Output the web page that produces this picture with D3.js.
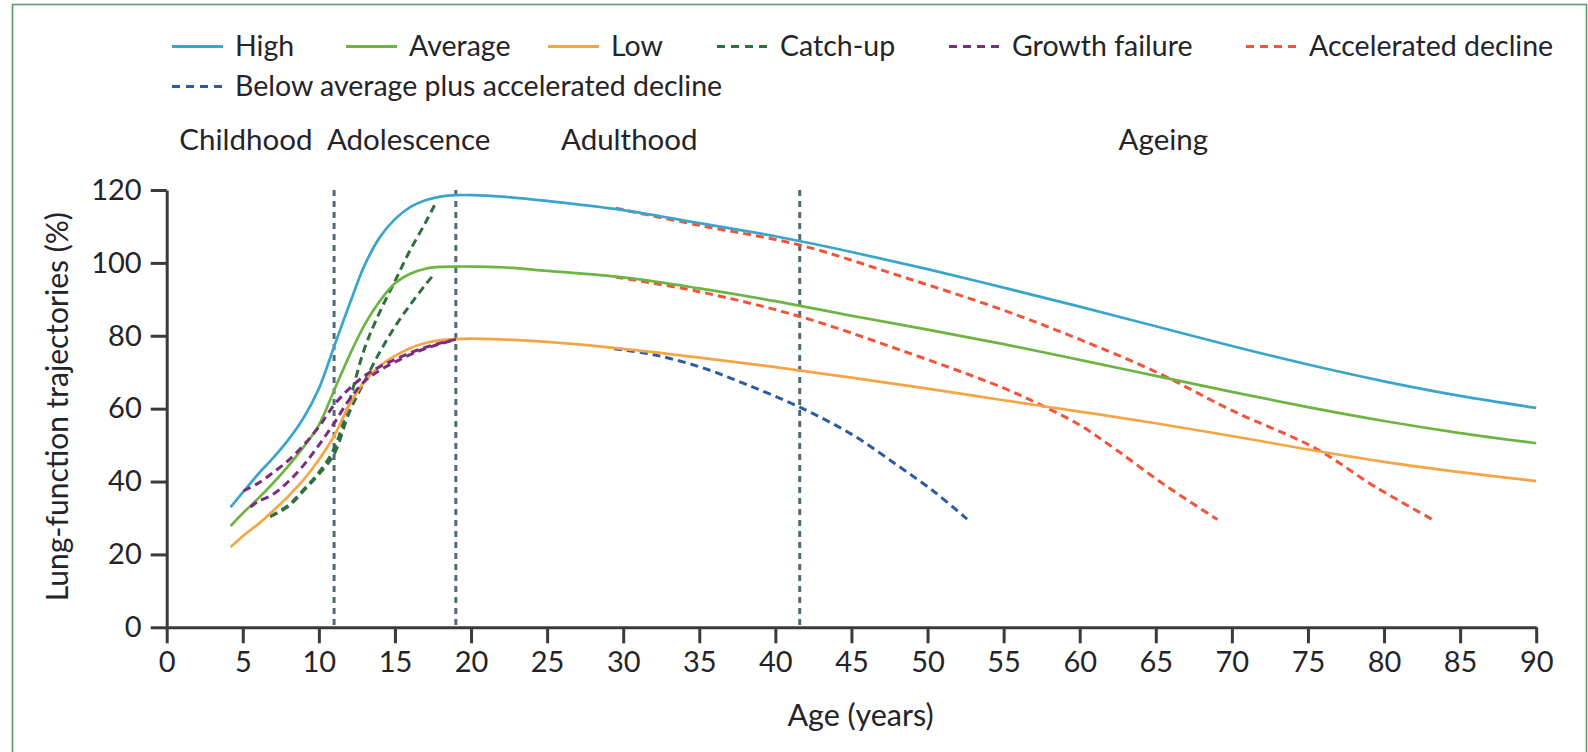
<!DOCTYPE html>
<html>
<head>
<meta charset="utf-8">
<script src="https://cdn.jsdelivr.net/npm/d3@7"></script>
<style>
  html, body { margin: 0; padding: 0; background: #fff; }
  svg { display: block; }
  text { font-family: Lato, "Open Sans", sans-serif; fill: #242428; }
</style>
</head>
<body>
<svg id="chart" width="1588" height="752"></svg>
<script>
// Ages (years) and lung-function values (% of reference) for the three main trajectories
const mainAges    = [4.2, 5, 6, 7, 8, 9, 10, 11, 12, 13, 14, 15, 16, 17, 18, 19, 20, 22, 25, 30, 35, 40, 45, 50, 55, 60, 65, 70, 75, 80, 85, 90];
const highValues  = [33, 37, 42, 46.5, 51.5, 57.5, 65.5, 77, 88.5, 99.3, 107, 112, 115.3, 117.2, 118.2, 118.6, 118.6, 118.2, 117, 114.5, 110.9, 107.3, 103, 98.3, 93.2, 88, 82.6, 77.2, 72.1, 67.5, 63.5, 60.2];
const averageValues = [27.8, 31.3, 35.3, 39.6, 44.3, 49.5, 55.5, 65, 74.5, 83, 89.5, 94.4, 97, 98.4, 98.9, 99, 99, 98.8, 97.8, 96, 93, 89.5, 85.5, 81.7, 77.7, 73.4, 69, 64.6, 60.4, 56.6, 53.3, 50.5];
const lowValues   = [22, 25, 28.3, 32, 36, 40.5, 46, 52.5, 61, 67.5, 71.7, 74.5, 76.6, 78, 78.8, 79.1, 79.2, 79, 78.3, 76.4, 74, 71.4, 68.5, 65.5, 62.3, 59.2, 56, 52.5, 48.8, 45.4, 42.6, 40.1];

// Catch-up: from the low trajectory up to the high and average peaks
const catchUpHighAges   = [6.8, 8, 9, 10, 11, 12, 13, 14, 15, 16, 17, 17.6];
const catchUpHighValues = [30.4, 33.5, 37.8, 42.5, 49, 62, 76.5, 86.5, 95, 103.5, 111, 115.8];
const catchUpAvgAges    = [6.8, 8, 9, 10, 11, 12, 13, 14, 15, 16, 17, 17.6];
const catchUpAvgValues  = [30.4, 33.2, 37.5, 42, 47.5, 59, 67.5, 75.5, 82.5, 88.5, 94, 97];

// Growth failure: from the high and average trajectories down to the low peak
const failHighAges   = [5.04, 6, 7, 8, 9, 10, 11, 12, 13, 14, 15, 16, 17, 18, 19];
const failHighValues = [37.4, 39.5, 42.5, 45.8, 50, 55, 61, 65.5, 69, 71.5, 73.5, 75.3, 76.8, 78, 79];
const failAvgAges    = [5.5, 6, 7, 8, 9, 10, 11, 12, 13, 14, 15, 16, 17, 18, 19];
const failAvgValues  = [33, 34.5, 36.5, 40, 44.5, 50, 56, 62.5, 67.5, 70.5, 72.8, 74.8, 76.5, 77.8, 79];

// Accelerated decline leaving the high and average trajectories
const declineHighAges   = [29.5, 35, 41.6, 48.2, 54.8, 60, 65.1, 70, 75.5, 79.4, 83.3];
const declineHighValues = [115, 110.3, 104.9, 96.4, 87.3, 79, 69.9, 59.5, 49.1, 38.6, 29.3];
const declineAvgAges    = [29.5, 35, 41.6, 48.2, 54.8, 57.2, 60, 62.4, 65.6, 69.05];
const declineAvgValues  = [96.1, 92.1, 85.3, 76.1, 66, 61.5, 55.5, 48.7, 39, 29.6];

// Below average plus accelerated decline, leaving the low trajectory
const belowAges   = [29.4, 32, 35, 38, 41.6, 45, 48, 50.5, 52.6];
const belowValues = [76.4, 74.8, 71.5, 66.8, 60.4, 53, 44.5, 37, 29.7];

// Life-stage boundaries and labels
const stageBoundaries = [11, 19, 41.6];
const stageNames = ["Childhood", "Adolescence", "Adulthood", "Ageing"];
const stageLabelAges = [5.2, 15.9, 30.4, 65.5];

// Axis ticks
const xTicks = [0, 5, 10, 15, 20, 25, 30, 35, 40, 45, 50, 55, 60, 65, 70, 75, 80, 85, 90];
const yTicks = [0, 20, 40, 60, 80, 100, 120];

// Legend entries
const legendNames = ["High", "Average", "Low", "Catch-up", "Growth failure", "Accelerated decline", "Below average plus accelerated decline"];

// Styles
const colors = {
  high: "#3aa5cc", average: "#6db443", low: "#f7a445",
  catchUp: "#2f6e40", fail: "#7c2c7e", decline: "#f4533a", below: "#2c5ba6",
  stage: "#4f6a74", axis: "#3a3a3e", frame: "#5d9a72"
};

const svg = d3.select("#chart");
const x = d3.scaleLinear().domain([0, 90]).range([166.7, 1536.2]);
const y = d3.scaleLinear().domain([0, 120]).range([627.3, 190]);

// Frame around the figure
svg.append("rect")
  .attr("x", 12.5).attr("y", 4.5).attr("width", 1574).attr("height", 800)
  .attr("fill", "none").attr("stroke", colors.frame).attr("stroke-width", 1.6);

// Life-stage dividers
svg.append("g").selectAll("line").data(stageBoundaries).join("line")
  .attr("x1", d => x(d)).attr("x2", d => x(d))
  .attr("y1", y(120)).attr("y2", y(0))
  .attr("stroke", colors.stage).attr("stroke-width", 3)
  .attr("stroke-dasharray", "6,5");

// Life-stage labels
svg.append("g").selectAll("text").data(stageNames).join("text")
  .attr("x", (d, i) => x(stageLabelAges[i]))
  .attr("y", 140)
  .attr("dy", "0.35em")
  .attr("text-anchor", "middle")
  .attr("font-size", 29.5)
  .text(d => d);

// Axes
const xAxis = svg.append("g")
  .attr("transform", `translate(0,${y(0)})`)
  .call(d3.axisBottom(x).tickValues(xTicks).tickSize(16).tickSizeOuter(0).tickPadding(8).tickFormat(d3.format("d")));
const yAxis = svg.append("g")
  .attr("transform", `translate(${x(0)},0)`)
  .call(d3.axisLeft(y).tickValues(yTicks).tickSize(16).tickSizeOuter(0).tickPadding(9).tickFormat(d3.format("d")));
[xAxis, yAxis].forEach(g => {
  g.select(".domain").attr("stroke", colors.axis).attr("stroke-width", 3);
  g.selectAll(".tick line").attr("stroke", colors.axis).attr("stroke-width", 3);
  g.selectAll(".tick text").attr("font-size", 29).attr("fill", "#242428")
    .style("font-family", "Lato, 'Open Sans', sans-serif");
});

// Axis titles
svg.append("text")
  .attr("x", x(45.6)).attr("y", 715).attr("dy", "0.35em")
  .attr("text-anchor", "middle").attr("font-size", 30.5)
  .text("Age (years)");
svg.append("text")
  .attr("transform", `translate(57,${y(60.5)}) rotate(-90)`)
  .attr("dy", "0.35em")
  .attr("text-anchor", "middle").attr("font-size", 30)
  .text("Lung-function trajectories (%)");

// Trajectories
const smooth = d3.line().x(d => x(d[0])).y(d => y(d[1])).curve(d3.curveCatmullRom.alpha(0.5));
const pair = (ages, vals) => ages.map((a, i) => [a, vals[i]]);

const series = [
  { pts: pair(declineHighAges, declineHighValues), color: colors.decline, dash: "8,5", w: 3 },
  { pts: pair(declineAvgAges, declineAvgValues), color: colors.decline, dash: "8,5", w: 3 },
  { pts: pair(belowAges, belowValues), color: colors.below, dash: "8,5", w: 3 },
  { pts: pair(catchUpHighAges, catchUpHighValues), color: colors.catchUp, dash: "8,5", w: 3 },
  { pts: pair(catchUpAvgAges, catchUpAvgValues), color: colors.catchUp, dash: "8,5", w: 3 },
  { pts: pair(mainAges, highValues), color: colors.high, dash: null, w: 2.7 },
  { pts: pair(mainAges, averageValues), color: colors.average, dash: null, w: 2.7 },
  { pts: pair(mainAges, lowValues), color: colors.low, dash: null, w: 2.7 },
  { pts: pair(failHighAges, failHighValues), color: colors.fail, dash: "8,5", w: 3 },
  { pts: pair(failAvgAges, failAvgValues), color: colors.fail, dash: "8,5", w: 3 }
];

svg.append("g").selectAll("path").data(series).join("path")
  .attr("d", d => smooth(d.pts))
  .attr("fill", "none")
  .attr("stroke", d => d.color)
  .attr("stroke-width", d => d.w)
  .attr("stroke-dasharray", d => d.dash);

// Legend
const legendColors = [colors.high, colors.average, colors.low, colors.catchUp, colors.fail, colors.decline, colors.below];
const legendDashed = [false, false, false, true, true, true, true];
const legendPos = [[172, 46.5], [346, 46.5], [548, 46.5], [717, 46.5], [949, 46.5], [1246, 46.5], [172, 86.5]];

const legend = svg.append("g").selectAll("g").data(legendNames).join("g")
  .attr("transform", (d, i) => `translate(${legendPos[i][0]},${legendPos[i][1]})`);
legend.append("line")
  .attr("x1", 0).attr("x2", 51).attr("y1", 0).attr("y2", 0)
  .attr("stroke", (d, i) => legendColors[i])
  .attr("stroke-width", 3)
  .attr("stroke-dasharray", (d, i) => legendDashed[i] ? "8,6" : null);
legend.append("text")
  .attr("x", 63).attr("y", 0).attr("dy", "0.35em")
  .attr("font-size", 28.5)
  .text(d => d);
</script>
</body>
</html>
